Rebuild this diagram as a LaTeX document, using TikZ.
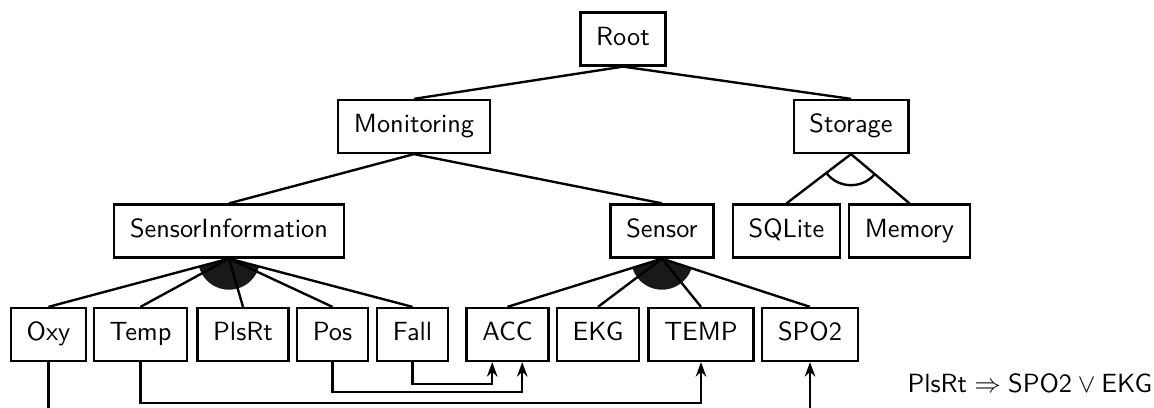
\documentclass[tikz,border=0pt]{standalone}
\usepackage{amsmath}
\usepackage{tikz}
\usetikzlibrary{arrows.meta}
\renewcommand{\familydefault}{\sfdefault}
\tikzset{
    feat/.style={draw, line width=0.9pt, rectangle, inner xsep=6pt, inner ysep=5.5pt, text height=7pt, text depth=2.1pt, font=\sffamily},
    link/.style={line width=0.9pt},
    arrow/.style={line width=0.9pt, -{Stealth[length=5.5pt, width=4pt]}},
    orfill/.style={fill=black!90}
}

\begin{document}
\begin{tikzpicture}[x=0.38pt, y=-0.38pt]
\useasboundingbox (0,0) rectangle (1154,408);
\clip (0,0) rectangle (1154,408);
\node[feat] (root) at (623,39) {Root};
\node[feat] (mon) at (414,126.5) {Monitoring};
\node[feat] (sto) at (851,126.5) {Storage};
\node[feat] (sinfo) at (229,231) {SensorInformation};
\node[feat] (sens) at (662,231) {Sensor};
\node[feat] (sql) at (786.5,231) {SQLite};
\node[feat] (mem) at (909.5,231) {Memory};
\node[feat] (oxy) at (48.5,334.5) {Oxy};
\node[feat] (temp) at (140.5,334.5) {Temp};
\node[feat] (plsrt) at (243,334.5) {PlsRt};
\node[feat] (pos) at (332.5,334.5) {Pos};
\node[feat] (fall) at (412.5,334.5) {Fall};
\node[feat] (acc) at (507.5,334.5) {ACC};
\node[feat] (ekg) at (598,334.5) {EKG};
\node[feat] (tmp) at (701,334.5) {TEMP};
\node[feat] (spo) at (810,334.5) {SPO2};
\node[anchor=base west, inner sep=0pt] (rule) at (907,393) {$\textsf{PlsRt} \Rightarrow \textsf{SPO2} \vee \textsf{EKG}$};
\begin{scope}
\clip (sinfo.south) circle[radius=11.8pt];
\fill[orfill] (sinfo.south) -- (oxy.north) -- (fall.north) -- cycle;
\end{scope}
\begin{scope}
\clip (sens.south) circle[radius=11.8pt];
\fill[orfill] (sens.south) -- (acc.north) -- (spo.north) -- cycle;
\end{scope}
\begin{scope}
\clip (sto.south) -- (sql.north) -- (mem.north) -- cycle;
\draw[link] (sto.south) circle[radius=11.8pt];
\end{scope}
\draw[link] (root.south) -- (mon.north);
\draw[link] (root.south) -- (sto.north);
\draw[link] (mon.south) -- (sinfo.north);
\draw[link] (mon.south) -- (sens.north);
\draw[link] (sto.south) -- (sql.north);
\draw[link] (sto.south) -- (mem.north);
\draw[link] (sinfo.south) -- (oxy.north);
\draw[link] (sinfo.south) -- (temp.north);
\draw[link] (sinfo.south) -- (plsrt.north);
\draw[link] (sinfo.south) -- (pos.north);
\draw[link] (sinfo.south) -- (fall.north);
\draw[link] (sens.south) -- (acc.north);
\draw[link] (sens.south) -- (ekg.north);
\draw[link] (sens.south) -- (tmp.north);
\draw[link] (sens.south) -- (spo.north);
\draw[arrow] (fall.south) -- ++(0,22) -| ([xshift=-5.8pt]acc.south);
\draw[arrow] (pos.south) -- ++(0,30) -| ([xshift=5.6pt]acc.south);
\draw[arrow] (temp.south) -- ++(0,41) -| (tmp.south);
\draw[arrow] (oxy.south) -- ++(0,60) -| (spo.south);
\end{tikzpicture}
\end{document}
